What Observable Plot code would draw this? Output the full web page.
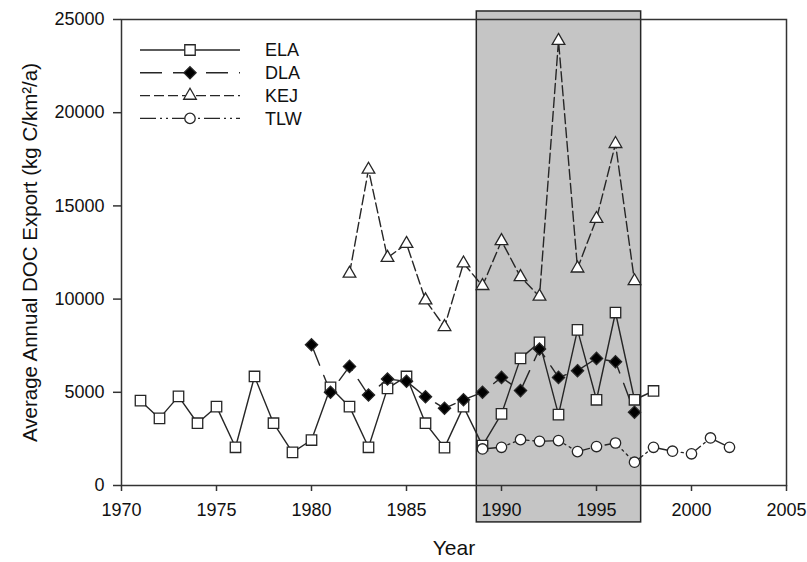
<!DOCTYPE html>
<html>
<head>
<meta charset="utf-8">
<script src="https://cdn.jsdelivr.net/npm/d3@7"></script>
<script src="https://cdn.jsdelivr.net/npm/@observablehq/plot@0.6"></script>
<style>
  html, body { margin: 0; padding: 0; background: #fff; }
  #wrap { position: relative; width: 807px; height: 562px; font-family: "Liberation Sans", Arial, sans-serif; }
  #legend { position: absolute; left: 0; top: 0; }
</style>
</head>
<body>
<div id="wrap"></div>
<script>
// ---- data ----
const elaYears = d3.range(1971, 1999);
const elaValues = [4550,3600,4780,3340,4230,2050,5850,3340,1780,2440,5260,4230,2050,5210,5850,3340,2030,4230,2140,3840,6820,7680,3800,8350,4600,9280,4600,5070];
const dlaYears = d3.range(1980, 1998);
const dlaValues = [7550,5000,6390,4850,5710,5590,4760,4140,4600,5000,5800,5090,7320,5800,6160,6820,6640,3930];
const kejYears = d3.range(1982, 1998);
const kejValues = [11370,16950,12220,12970,9940,8510,11920,10710,13120,11190,10140,23860,11650,14310,18330,10970];
const tlwYears = d3.range(1989, 2003);
const tlwValues = [1960,2050,2460,2370,2410,1820,2090,2280,1250,2050,1840,1700,2550,2050];
const seriesNames = ["ELA", "DLA", "KEJ", "TLW"];
const xTicks = [1970,1975,1980,1985,1990,1995,2000,2005];
const yTicks = [0,5000,10000,15000,20000,25000];
const shadeStart = [1988.7];
const shadeEnd = [1997.35];
const shadeLow = [-1980];
const shadeHigh = [25430];

const zip = (xs, ys) => xs.map((x, i) => ({year: x, value: ys[i]}));
const ela = zip(elaYears, elaValues);
const dla = zip(dlaYears, dlaValues);
const kej = zip(kejYears, kejValues);
const tlw = zip(tlwYears, tlwValues);
const shade = shadeStart.map((s, i) => ({start: s, end: shadeEnd[i], low: shadeLow[i], high: shadeHigh[i]}));

const INK = "#262626";
const styles = {
  ELA: {dash: null, symbol: "square", r: 5.9, fill: "white"},
  DLA: {dash: "22,11", symbol: "diamond2", r: 5.5, fill: "black"},
  KEJ: {dash: "10,4", symbol: "triangle", r: 4.7, fill: "white"},
  TLW: {dash: "16,4,2,4,2,4", symbol: "circle", r: 5.2, fill: "white"}
};
const dataBy = {ELA: ela, DLA: dla, KEJ: kej, TLW: tlw};

const lineMarks = seriesNames.map(n => Plot.line(dataBy[n], {
  x: "year", y: "value", stroke: INK, strokeWidth: 1.4,
  strokeDasharray: styles[n].dash || undefined
}));
const dotMarks = seriesNames.map(n => Plot.dot(dataBy[n], {
  x: "year", y: "value", symbol: styles[n].symbol, r: styles[n].r,
  fill: styles[n].fill, stroke: INK, strokeWidth: 1.3
}));

const chart = Plot.plot({
  width: 807, height: 562,
  marginLeft: 121, marginRight: 21, marginTop: 19, marginBottom: 77,
  x: {domain: [1970, 2005]},
  y: {domain: [0, 25000]},
  style: {fontFamily: "'Liberation Sans', Arial, sans-serif", fontSize: "18px", color: "#111", background: "white", overflow: "visible"},
  marks: [
    Plot.rect(shade, {x1: "start", x2: "end", y1: "low", y2: "high", fill: "#c5c5c5", stroke: INK, strokeWidth: 1.5}),
    Plot.frame({stroke: "#333", strokeWidth: 1.5}),
    Plot.axisX({ticks: xTicks, tickFormat: d => String(d), tickSize: 6, tickPadding: 12, label: null, stroke: "#333", strokeWidth: 1.5}),
    Plot.axisY({ticks: yTicks, tickFormat: d => String(d), tickSize: 8, tickPadding: 9, label: null, stroke: "#333", strokeWidth: 1.5}),
    Plot.text(["Year"], {text: d => d, frameAnchor: "bottom", dy: 69, fontSize: 21, fill: "#111"}),
    Plot.text(["Average Annual DOC Export (kg C/km²/a)"], {text: d => d, frameAnchor: "left", textAnchor: "middle", dx: -91, rotate: -90, fontSize: 20.5, fill: "#111"}),
    ...lineMarks,
    ...dotMarks
  ]
});
const wrap = document.getElementById("wrap");
wrap.appendChild(chart);

// ---- legend (HTML overlay with inline SVG) ----
const leg = d3.select(wrap).append("svg").attr("id", "legend")
  .attr("width", 807).attr("height", 562).style("pointer-events", "none");
const rowY = i => 50 + i * 22.8;
seriesNames.forEach((n, i) => {
  const s = styles[n];
  const y = rowY(i);
  leg.append("line").attr("x1", 140).attr("x2", 240).attr("y1", y).attr("y2", y)
    .attr("stroke", INK).attr("stroke-width", 1.4)
    .attr("stroke-dasharray", s.dash || null);
  if (s.symbol === "circle") {
    leg.append("circle").attr("cx", 190).attr("cy", y).attr("r", s.r)
      .attr("fill", s.fill).attr("stroke", INK).attr("stroke-width", 1.3);
  } else {
    const sym = {square: d3.symbolSquare, diamond2: d3.symbolDiamond2, triangle: d3.symbolTriangle}[s.symbol];
    leg.append("path").attr("transform", `translate(190,${y})`)
      .attr("d", d3.symbol(sym, Math.PI * s.r * s.r)())
      .attr("fill", s.fill).attr("stroke", INK).attr("stroke-width", 1.3);
  }
  leg.append("text").attr("x", 265).attr("y", y).attr("dy", "0.35em")
    .attr("font-family", "'Liberation Sans', Arial, sans-serif")
    .attr("font-size", 18).attr("fill", "#111").text(n);
});
</script>
</body>
</html>
